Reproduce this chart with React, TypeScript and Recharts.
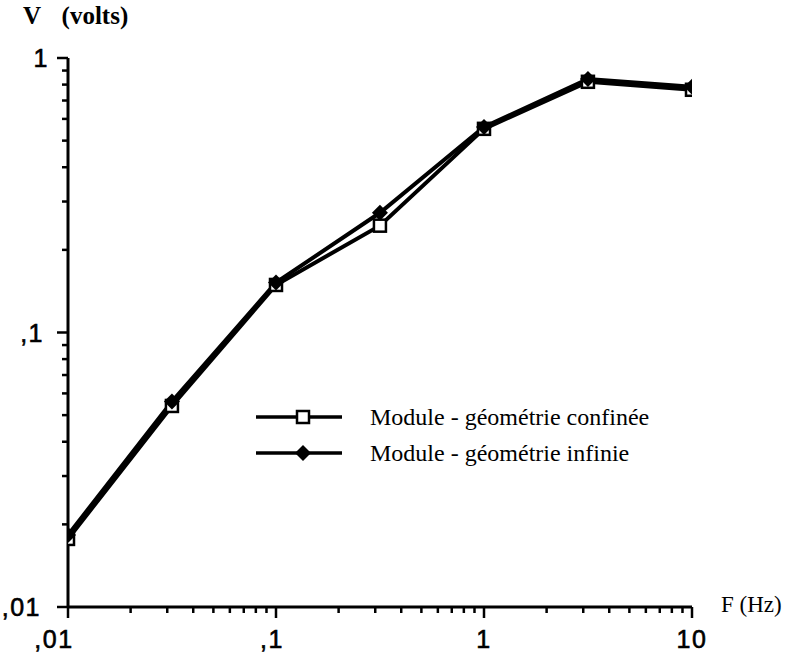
import React from 'react'
import { LineChart, Line, XAxis, YAxis } from 'recharts'

// F (Hz), log spaced half decades
const freq = [0.01, 0.0316, 0.1, 0.316, 1, 3.16, 10]
// V (volts)
const confinee = [0.0177, 0.054, 0.149, 0.245, 0.552, 0.819, 0.766]
const infinie = [0.0183, 0.056, 0.152, 0.273, 0.561, 0.839, 0.785]

const seriesNames = ['Module - géométrie confinée', 'Module - géométrie infinie']

const xTicks = [
  0.01, 0.02, 0.03, 0.04, 0.05, 0.06, 0.07, 0.08, 0.09,
  0.1, 0.2, 0.3, 0.4, 0.5, 0.6, 0.7, 0.8, 0.9,
  1, 2, 3, 4, 5, 6, 7, 8, 9, 10,
]
const yTicks = [
  0.01, 0.02, 0.03, 0.04, 0.05, 0.06, 0.07, 0.08, 0.09,
  0.1, 0.2, 0.3, 0.4, 0.5, 0.6, 0.7, 0.8, 0.9, 1,
]
const majorLabels: Record<string, string> = { '0.01': ',01', '0.1': ',1', '1': '1', '10': '10' }

const chartData = freq.map((f, i) => ({ f, confinee: confinee[i], infinie: infinie[i] }))

const labelFor = (v: number) => majorLabels[String(v)]
const tickFont = 'Liberation Sans, Arial, sans-serif'
const serif = 'Liberation Serif, Times New Roman, serif'

function XTick({ x, y, payload }: any) {
  const lab = labelFor(payload.value)
  const dx = lab && lab.startsWith(',') ? (lab.length === 3 ? -14 : -4) : 0
  return (
    <g>
      <line x1={x} x2={x} y1={y} y2={y + (lab ? 11 : 6)} stroke="#000" strokeWidth={2.5} />
      {lab && (
        <text x={x + dx} y={y + 41} textAnchor="middle" fontSize={25} fontFamily={tickFont} letterSpacing={1.5} fill="#000" stroke="#000" strokeWidth={0.6}>
          {lab}
        </text>
      )}
    </g>
  )
}

function YTick({ x, y, payload }: any) {
  const lab = labelFor(payload.value)
  return (
    <g>
      <line x1={x} x2={x - (lab ? 11 : 6)} y1={y} y2={y} stroke="#000" strokeWidth={2.5} />
      {lab && (
        <text x={x - (lab.length === 3 ? 27 : lab.length === 2 ? 24 : 19)} y={y + 9} textAnchor="end" fontSize={25} fontFamily={tickFont} letterSpacing={1.5} fill="#000" stroke="#000" strokeWidth={0.6}>
          {lab}
        </text>
      )}
    </g>
  )
}

const SquareDot = ({ cx, cy }: any) =>
  cx == null ? null : <rect x={cx - 6} y={cy - 6} width={12} height={12} fill="#fff" stroke="#000" strokeWidth={2.5} />

const DiamondDot = ({ cx, cy }: any) =>
  cx == null ? null : <polygon points={`${cx},${cy - 8} ${cx + 8},${cy} ${cx},${cy + 8} ${cx - 8},${cy}`} fill="#000" />

function LegendBox() {
  return (
    <svg width={440} height={70} style={{ position: 'absolute', left: 250, top: 405, overflow: 'visible' }}>
      <line x1={6} x2={92} y1={12} y2={12} stroke="#000" strokeWidth={3.5} />
      <rect x={47} y={6} width={12} height={12} fill="#fff" stroke="#000" strokeWidth={2.5} />
      <text x={120} y={20} fontSize={24} fontFamily={serif} fill="#000">{seriesNames[0]}</text>
      <line x1={6} x2={92} y1={48} y2={48} stroke="#000" strokeWidth={3.5} />
      <polygon points="53,40 61,48 53,56 45,48" fill="#000" />
      <text x={120} y={56} fontSize={24} fontFamily={serif} fill="#000">{seriesNames[1]}</text>
    </svg>
  )
}

export default function App() {
  return (
    <div style={{ position: 'absolute', left: 0, top: 0, width: 797, height: 657, background: '#fff' }}>
      <LineChart width={797} height={657} data={chartData} margin={{ top: 58, right: 105, bottom: 0, left: 8 }}>
        <XAxis
          dataKey="f"
          type="number"
          scale="log"
          domain={[0.01, 10]}
          ticks={xTicks}
          interval={0}
          height={50}
          tickSize={0}
          tickMargin={0}
          tickLine={false}
          axisLine={{ stroke: '#000', strokeWidth: 3 }}
          tick={<XTick />}
          allowDataOverflow
        />
        <YAxis
          type="number"
          scale="log"
          domain={[0.01, 1]}
          ticks={yTicks}
          interval={0}
          width={60}
          tickSize={0}
          tickMargin={0}
          tickLine={false}
          axisLine={{ stroke: '#000', strokeWidth: 3 }}
          tick={<YTick />}
          allowDataOverflow
        />
        <Line dataKey="confinee" stroke="#000" strokeWidth={4} dot={<SquareDot />} isAnimationActive={false} />
        <Line dataKey="infinie" stroke="#000" strokeWidth={4} dot={<DiamondDot />} isAnimationActive={false} />
      </LineChart>
      <LegendBox />
      <div style={{ position: 'absolute', left: 23, top: 2, fontFamily: serif, fontSize: 25, fontWeight: 'bold', wordSpacing: 4 }}>
        V&nbsp; (volts)
      </div>
      <div style={{ position: 'absolute', left: 721, top: 592, fontFamily: serif, fontSize: 23 }}>
        F (Hz)
      </div>
    </div>
  )
}
